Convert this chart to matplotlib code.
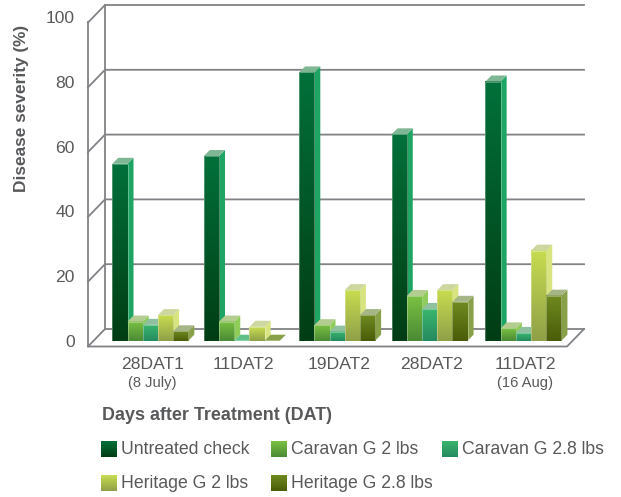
import numpy as np
import matplotlib
matplotlib.use("Agg")
import matplotlib.pyplot as plt
from matplotlib.colors import LinearSegmentedColormap
from matplotlib.patches import Polygon, Rectangle

plt.rcParams['font.family'] = ['Liberation Sans', 'DejaVu Sans']

# values
groups = ['28DAT1', '11DAT2', '19DAT2', '28DAT2', '11DAT2']
sublabels = ['(8 July)', '', '', '', '(16 Aug)']
series = ['Untreated check', 'Caravan G 2 lbs', 'Caravan G 2.8 lbs', 'Heritage G 2 lbs', 'Heritage G 2.8 lbs']
untreated = [54.6, 57, 82.8, 63.7, 80]
caravan_2 = [5.9, 5.9, 4.8, 13.8, 3.8]
caravan_28 = [4.9, 0, 2.8, 9.8, 2.4]
heritage_2 = [7.9, 4.3, 15.6, 15.6, 27.8]
heritage_28 = [2.9, 0, 7.9, 12, 13.9]
yticks = [0, 20, 40, 60, 80, 100]

all_values = [untreated, caravan_2, caravan_28, heritage_2, heritage_28]

# (gradient top, gradient bottom, side face, top face)
colors = [
    ('#02703a', '#013d14', '#1ea463', '#7fb694'),
    ('#7ac143', '#4a8a35', '#90cc5a', '#b3cc90'),
    ('#3ab56e', '#258a60', '#5ec088', '#8fc0a0'),
    ('#c8dc50', '#8fa048', '#d8e480', '#ccd8a0'),
    ('#6f8a20', '#4a5c08', '#88a048', '#a5b585'),
]

TEXT = '#58595b'
LINE = '#808285'

# picture calibration, in pixels
W, H = 621, 497
X0, Y0 = 112.3, 340.7      # left edge of first bar, bar baseline
XSTEP, YSCALE = 93.4, 3.24 # pixels per group, pixels per percent
BAR_W = 15.2 / XSTEP
DX, DY = 6 / XSTEP, 6 / YSCALE
# the groups are not quite evenly spaced in the reference
group_x = [0, 0.98, 2.0, 2.99, 3.995]


def px(x, y):
    # pixel position of the reference to data coordinates
    return (x - X0) / XSTEP, (Y0 - y) / YSCALE


def gradient(x0, x1, y0, y1, top, bottom, z):
    cmap = LinearSegmentedColormap.from_list('g', [top, bottom])
    ax.imshow(np.linspace(0, 1, 64).reshape(-1, 1), cmap=cmap, aspect='auto',
              extent=(x0, x1, y0, y1), interpolation='bilinear', zorder=z)


fig = plt.figure(figsize=(W / 100, H / 100), dpi=100)
ax = fig.add_axes([0, 0, 1, 1])
ax.set_axis_off()

# frame: gridlines on the back wall and the side wall
for v in yticks:
    yb = 329 - v * YSCALE
    yf = 346.5 - v * YSCALE
    ax.plot(*zip(px(88, yf), px(105, yb), px(584, yb)), color=LINE, lw=1.3, zorder=1,
            solid_joinstyle='miter')
    tx, ty = px(75, yf - 4)
    ax.text(tx, ty, str(v), ha='right', va='center', fontsize=12.6, color=TEXT)
ax.plot(*zip(px(88, 22), px(88, 346.5), px(567, 346.5), px(584, 329)), color=LINE, lw=1.3, zorder=1)
ax.plot(*zip(px(105, 5), px(105, 329)), color=LINE, lw=1.3, zorder=1)

# bars
z = 3
for g in range(len(groups)):
    for s, values in enumerate(all_values):
        v = values[g]
        x0 = group_x[g] + s * BAR_W
        x1 = x0 + BAR_W
        top, bottom, side, lid = colors[s]
        if v > 0:
            ax.add_patch(Polygon([(x1, 0), (x1 + DX, DY), (x1 + DX, v + DY), (x1, v)],
                                 facecolor=side, edgecolor='none', zorder=z))
            gradient(x0, x1, 0, v, top, bottom, z + 0.1)
            ax.add_patch(Rectangle((x0, 0), BAR_W, v, facecolor='none',
                                   edgecolor=(1, 1, 1, 0.35), lw=0.6, zorder=z + 0.15))
        ax.add_patch(Polygon([(x0, v), (x0 + DX, v + DY), (x1 + DX, v + DY), (x1, v)],
                             facecolor=lid if v > 0 else side, edgecolor='none', zorder=z + 0.2))
        z += 1

# axis texts
tx, ty = px(22, 108)
ax.text(tx, ty, 'Disease severity (%)', rotation=90, ha='center', va='center',
        fontsize=12.4, fontweight='bold', color=TEXT)
for g, name in enumerate(groups):
    cx = group_x[g] + 2.5 * BAR_W + 2 / XSTEP
    ax.text(cx, px(0, 364.5)[1], name, ha='center', va='center', fontsize=12.6, color=TEXT)
    if sublabels[g]:
        ax.text(cx, px(0, 383)[1], sublabels[g], ha='center', va='center', fontsize=10.6, color=TEXT)

tx, ty = px(102, 416)
ax.text(tx, ty, 'Days after Treatment (DAT)', ha='left', va='center',
        fontsize=12.9, fontweight='bold', color=TEXT)

# legend laid out by hand, two rows
legend_pos = [(101, 449), (271, 449), (442, 449), (101, 483), (271, 483)]
for s, (lx, ly) in enumerate(legend_pos):
    x0, y1 = px(lx, ly - 8)
    x1, y0 = px(lx + 16, ly + 8)
    gradient(x0, x1, y0, y1, colors[s][0], colors[s][1], 500)
    tx, ty = px(lx + 20, ly)
    ax.text(tx, ty, series[s], ha='left', va='center', fontsize=12.7, color=TEXT)

ax.set_xlim(-X0 / XSTEP, (W - X0) / XSTEP)
ax.set_ylim((Y0 - H) / YSCALE, Y0 / YSCALE)

fig.savefig('out.png', dpi=100)
